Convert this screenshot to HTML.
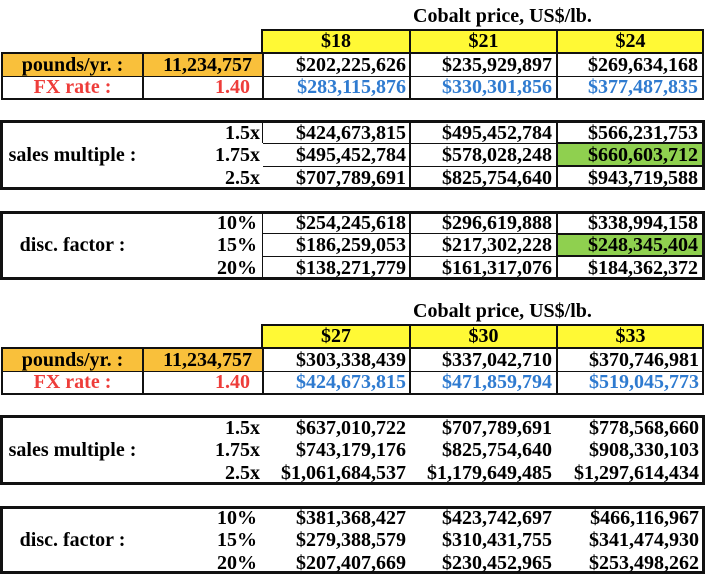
<!DOCTYPE html>
<html>
<head>
<meta charset="utf-8">
<style>
  html,body{margin:0;padding:0;background:#fff;}
  body{width:708px;height:577px;position:relative;overflow:hidden;}
  .t{position:absolute;font-family:"Liberation Serif","Times New Roman",serif;font-weight:bold;font-size:20px;line-height:23px;white-space:nowrap;color:#000;}
  .c{text-align:center;}
  .r{text-align:right;}
  .red{color:#EE3D3A;}
  .blue{color:#2F7BD0;}
  .fill{position:absolute;}
  .y{background:#FFF935;}
  .o{background:#F9C03B;}
  .g{background:#8FD04F;}
  .l{position:absolute;background:#111;}
  .f{position:absolute;box-sizing:border-box;border:2px solid #111;}
  .f3{border-width:3px;}
</style>
</head>
<body>

<!-- ================= TOP SECTION ================= -->
<!-- fills -->
<div class="fill y" style="left:262px;top:30px;width:442px;height:23px;"></div>
<div class="fill o" style="left:2px;top:53px;width:261px;height:23px;"></div>
<div class="fill g" style="left:557px;top:143px;width:147px;height:23px;"></div>
<div class="fill g" style="left:557px;top:234px;width:147px;height:22px;"></div>

<!-- frames -->
<div class="f" style="left:261px;top:29px;width:443px;height:25px;"></div>
<div class="f" style="left:1px;top:52px;width:703px;height:48px;"></div>
<div class="f f3" style="left:0;top:120px;width:705px;height:70px;"></div>
<div class="f f3" style="left:0;top:211px;width:705px;height:69px;"></div>

<!-- header verticals -->
<div class="l" style="left:409px;top:29px;width:2px;height:25px;"></div>
<div class="l" style="left:556px;top:29px;width:2px;height:25px;"></div>
<!-- main verticals -->
<div class="l" style="left:142px;top:52px;width:2px;height:48px;"></div>
<div class="l" style="left:262px;top:52px;width:2px;height:48px;"></div>
<div class="l" style="left:409px;top:52px;width:2px;height:48px;"></div>
<div class="l" style="left:556px;top:52px;width:2px;height:48px;"></div>
<div class="l" style="left:1px;top:76px;width:703px;height:1px;"></div>
<!-- sales lines -->
<div class="l" style="left:409px;top:120px;width:2px;height:70px;"></div>
<div class="l" style="left:556px;top:120px;width:2px;height:70px;"></div>
<div class="l" style="left:262px;top:120px;width:1px;height:23px;"></div>
<div class="l" style="left:263px;top:143px;width:441px;height:1px;"></div>
<div class="l" style="left:263px;top:166px;width:441px;height:1px;"></div>
<div class="f" style="left:556px;top:142px;width:149px;height:25px;"></div>
<!-- disc lines -->
<div class="l" style="left:262px;top:211px;width:1px;height:69px;"></div>
<div class="l" style="left:409px;top:211px;width:2px;height:69px;"></div>
<div class="l" style="left:556px;top:211px;width:2px;height:69px;"></div>
<div class="l" style="left:263px;top:233px;width:441px;height:1px;"></div>
<div class="l" style="left:263px;top:256px;width:441px;height:1px;"></div>
<div class="f" style="left:556px;top:233px;width:149px;height:24px;"></div>

<!-- texts top -->
<div class="t" style="left:413px;top:6px;line-height:20px;">Cobalt price, US$/lb.</div>

<div class="t c" style="left:262px;top:30px;width:148px;line-height:22px;">$18</div>
<div class="t c" style="left:410px;top:30px;width:147px;line-height:22px;">$21</div>
<div class="t c" style="left:557px;top:30px;width:147px;line-height:22px;">$24</div>

<div class="t c" style="left:2px;top:54px;width:141px;">pounds/yr. :</div>
<div class="t r" style="right:456px;top:54px;">11,234,757</div>
<div class="t r" style="right:302px;top:54px;">$202,225,626</div>
<div class="t r" style="right:156px;top:54px;">$235,929,897</div>
<div class="t r" style="right:10px;top:54px;">$269,634,168</div>

<div class="t c red" style="left:2px;top:76px;width:141px;">FX rate :</div>
<div class="t r red" style="right:458px;top:76px;">1.40</div>
<div class="t r blue" style="right:302px;top:76px;">$283,115,876</div>
<div class="t r blue" style="right:156px;top:76px;">$330,301,856</div>
<div class="t r blue" style="right:10px;top:76px;">$377,487,835</div>

<div class="t r" style="right:448px;top:122px;">1.5x</div>
<div class="t r" style="right:302px;top:122px;">$424,673,815</div>
<div class="t r" style="right:156px;top:122px;">$495,452,784</div>
<div class="t r" style="right:10px;top:122px;">$566,231,753</div>

<div class="t c" style="left:2px;top:144px;width:141px;">sales multiple :</div>
<div class="t r" style="right:448px;top:144px;">1.75x</div>
<div class="t r" style="right:302px;top:144px;">$495,452,784</div>
<div class="t r" style="right:156px;top:144px;">$578,028,248</div>
<div class="t r" style="right:10px;top:144px;">$660,603,712</div>

<div class="t r" style="right:448px;top:167px;">2.5x</div>
<div class="t r" style="right:302px;top:167px;">$707,789,691</div>
<div class="t r" style="right:156px;top:167px;">$825,754,640</div>
<div class="t r" style="right:10px;top:167px;">$943,719,588</div>

<div class="t r" style="right:451px;top:212px;">10%</div>
<div class="t r" style="right:302px;top:212px;">$254,245,618</div>
<div class="t r" style="right:156px;top:212px;">$296,619,888</div>
<div class="t r" style="right:10px;top:212px;">$338,994,158</div>

<div class="t c" style="left:2px;top:234px;width:141px;">disc. factor :</div>
<div class="t r" style="right:451px;top:234px;">15%</div>
<div class="t r" style="right:302px;top:234px;">$186,259,053</div>
<div class="t r" style="right:156px;top:234px;">$217,302,228</div>
<div class="t r" style="right:10px;top:234px;">$248,345,404</div>

<div class="t r" style="right:451px;top:257px;">20%</div>
<div class="t r" style="right:302px;top:257px;">$138,271,779</div>
<div class="t r" style="right:156px;top:257px;">$161,317,076</div>
<div class="t r" style="right:10px;top:257px;">$184,362,372</div>

<!-- ================= BOTTOM SECTION ================= -->
<div class="fill y" style="left:262px;top:325px;width:442px;height:23px;"></div>
<div class="fill o" style="left:2px;top:348px;width:261px;height:23px;"></div>

<div class="f" style="left:261px;top:324px;width:443px;height:25px;"></div>
<div class="f" style="left:1px;top:347px;width:703px;height:48px;"></div>
<div class="f f3" style="left:0;top:415px;width:705px;height:70px;"></div>
<div class="f f3" style="left:0;top:506px;width:705px;height:68px;"></div>

<div class="l" style="left:409px;top:324px;width:2px;height:25px;"></div>
<div class="l" style="left:556px;top:324px;width:2px;height:25px;"></div>
<div class="l" style="left:142px;top:347px;width:2px;height:48px;"></div>
<div class="l" style="left:262px;top:347px;width:2px;height:48px;"></div>
<div class="l" style="left:409px;top:347px;width:2px;height:48px;"></div>
<div class="l" style="left:556px;top:347px;width:2px;height:48px;"></div>
<div class="l" style="left:1px;top:371px;width:703px;height:1px;"></div>

<div class="t" style="left:413px;top:301px;line-height:20px;">Cobalt price, US$/lb.</div>

<div class="t c" style="left:262px;top:325px;width:148px;line-height:22px;">$27</div>
<div class="t c" style="left:410px;top:325px;width:147px;line-height:22px;">$30</div>
<div class="t c" style="left:557px;top:325px;width:147px;line-height:22px;">$33</div>

<div class="t c" style="left:2px;top:349px;width:141px;">pounds/yr. :</div>
<div class="t r" style="right:456px;top:349px;">11,234,757</div>
<div class="t r" style="right:302px;top:349px;">$303,338,439</div>
<div class="t r" style="right:156px;top:349px;">$337,042,710</div>
<div class="t r" style="right:9px;top:349px;">$370,746,981</div>

<div class="t c red" style="left:2px;top:371px;width:141px;">FX rate :</div>
<div class="t r red" style="right:458px;top:371px;">1.40</div>
<div class="t r blue" style="right:302px;top:371px;">$424,673,815</div>
<div class="t r blue" style="right:156px;top:371px;">$471,859,794</div>
<div class="t r blue" style="right:9px;top:371px;">$519,045,773</div>

<div class="t r" style="right:448px;top:417px;">1.5x</div>
<div class="t r" style="right:302px;top:417px;">$637,010,722</div>
<div class="t r" style="right:156px;top:417px;">$707,789,691</div>
<div class="t r" style="right:9px;top:417px;">$778,568,660</div>

<div class="t c" style="left:2px;top:439px;width:141px;">sales multiple :</div>
<div class="t r" style="right:448px;top:439px;">1.75x</div>
<div class="t r" style="right:302px;top:439px;">$743,179,176</div>
<div class="t r" style="right:156px;top:439px;">$825,754,640</div>
<div class="t r" style="right:9px;top:439px;">$908,330,103</div>

<div class="t r" style="right:448px;top:462px;">2.5x</div>
<div class="t r" style="right:302px;top:462px;">$1,061,684,537</div>
<div class="t r" style="right:156px;top:462px;">$1,179,649,485</div>
<div class="t r" style="right:9px;top:462px;">$1,297,614,434</div>

<div class="t r" style="right:451px;top:507px;">10%</div>
<div class="t r" style="right:302px;top:507px;">$381,368,427</div>
<div class="t r" style="right:156px;top:507px;">$423,742,697</div>
<div class="t r" style="right:9px;top:507px;">$466,116,967</div>

<div class="t c" style="left:2px;top:529px;width:141px;">disc. factor :</div>
<div class="t r" style="right:451px;top:529px;">15%</div>
<div class="t r" style="right:302px;top:529px;">$279,388,579</div>
<div class="t r" style="right:156px;top:529px;">$310,431,755</div>
<div class="t r" style="right:9px;top:529px;">$341,474,930</div>

<div class="t r" style="right:451px;top:552px;">20%</div>
<div class="t r" style="right:302px;top:552px;">$207,407,669</div>
<div class="t r" style="right:156px;top:552px;">$230,452,965</div>
<div class="t r" style="right:9px;top:552px;">$253,498,262</div>

</body>
</html>
